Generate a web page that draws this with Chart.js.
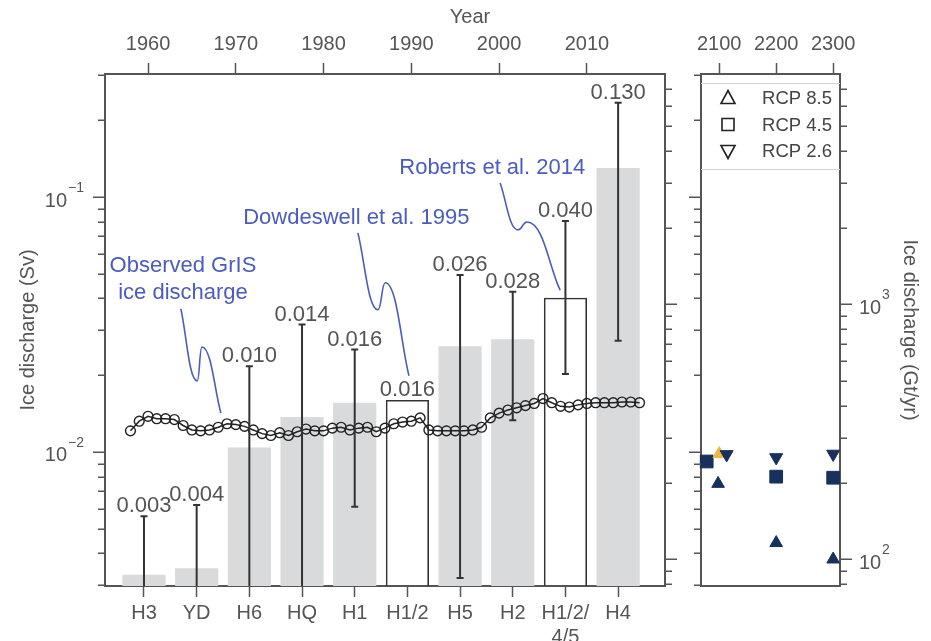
<!DOCTYPE html>
<html>
<head>
<meta charset="utf-8">
<script src="https://cdn.jsdelivr.net/npm/chart.js@4.4.1/dist/chart.umd.min.js"></script>
<style>
  html, body { margin: 0; padding: 0; background: #fff; }
  #wrap { position: relative; width: 931px; height: 641px; overflow: hidden; }
  .panel { position: absolute; top: 0; height: 641px; }
  #mainBox { left: 0; width: 685px; }
  #sideBox { left: 685px; width: 246px; }
</style>
</head>
<body>
<div id="wrap">
  <div class="panel" id="mainBox"><canvas id="mainChart" width="685" height="641"></canvas></div>
  <div class="panel" id="sideBox"><canvas id="sideChart" width="246" height="641"></canvas></div>
</div>
<script>
// ----------- Data -----------
const categories = ['H3', 'YD', 'H6', 'HQ', 'H1', 'H1/2', 'H5', 'H2', 'H1/2/\n4/5', 'H4'];
const dischargeSv = [0.0033, 0.0035, 0.0104, 0.0137, 0.0156, 0.0160, 0.0260, 0.0277, 0.0403, 0.130];
const valueLabels = ['0.003', '0.004', '0.010', '0.014', '0.016', '0.016', '0.026', '0.028', '0.040', '0.130'];
const errHigh = [0.0056, 0.0062, 0.0217, 0.0316, 0.0252, null, 0.0494, 0.0425, 0.0805, 0.234];
const errLow = [0.001, 0.001, 0.001, 0.001, 0.0061, null, 0.0032, 0.0133, 0.0202, 0.0273];
const outlined = [false, false, false, false, false, true, false, false, true, false];

// observed GrIS discharge, one point per year (Sv)
const obsYears = [1958, 1959, 1960, 1961, 1962, 1963, 1964, 1965, 1966, 1967,
  1968, 1969, 1970, 1971, 1972, 1973, 1974, 1975, 1976, 1977,
  1978, 1979, 1980, 1981, 1982, 1983, 1984, 1985, 1986, 1987,
  1988, 1989, 1990, 1991, 1992, 1993, 1994, 1995, 1996, 1997,
  1998, 1999, 2000, 2001, 2002, 2003, 2004, 2005, 2006, 2007,
  2008, 2009, 2010, 2011, 2012, 2013, 2014, 2015, 2016];
const obsSv = [0.0121, 0.0132, 0.0138, 0.0135, 0.0135, 0.0134, 0.0127, 0.0122, 0.0121, 0.0122,
  0.0125, 0.0129, 0.0128, 0.0126, 0.0122, 0.0118, 0.0116, 0.0119, 0.0116, 0.0120,
  0.0123, 0.0121, 0.0121, 0.0124, 0.0125, 0.0122, 0.0124, 0.0125, 0.0120, 0.0124,
  0.0129, 0.0131, 0.0132, 0.0136, 0.0122, 0.0121, 0.0121, 0.0121, 0.0121, 0.0122,
  0.0125, 0.0136, 0.0142, 0.0146, 0.0149, 0.0152, 0.0155, 0.0162, 0.0156, 0.0151,
  0.0150, 0.0153, 0.0155, 0.0156, 0.0156, 0.0156, 0.0157, 0.0157, 0.0156];

// projections (Gt/yr)
const rcp85Years = [2100, 2098, 2200, 2300];
const rcp85Gt = [259, 198, 116, 100];
const rcp85Colors = ['#f0b443', '#17315c', '#17315c', '#17315c'];
const rcp45Years = [2078, 2200, 2300];
const rcp45Gt = [242, 211, 209];
const rcp26Years = [2113, 2200, 2300];
const rcp26Gt = [258, 251, 259];

// axes
const svRange = [0.00298, 0.3037];
const gtRange = [78.6, 8010];
const yearRange = [1955.1, 2018.9];
const futureRange = [2068, 2312];
const catRange = [-0.74, 9.89];
const yearTicks = [1960, 1970, 1980, 1990, 2000, 2010];
const futureTicks = [2100, 2200, 2300];
const svTicks = [0.003, 0.004, 0.005, 0.006, 0.007, 0.008, 0.009,
  0.01, 0.02, 0.03, 0.04, 0.05, 0.06, 0.07, 0.08, 0.09, 0.1, 0.2, 0.3];
const svMajor = [0.01, 0.1];
const gtTicks = [80, 90, 100, 200, 300, 400, 500, 600, 700, 800, 900,
  1000, 2000, 3000, 4000, 5000, 6000, 7000];
const gtMajor = [100, 1000];

// callouts: text anchor [category, Sv] and curve points [category, Sv]
const callouts = [
  { lines: ['Observed GrIS', 'ice discharge'], at: [0.74, 0.0536],
    path: [[0.70, 0.0364], [1.01, 0.0190], [1.10, 0.0258], [1.46, 0.0142]] },
  { lines: ['Dowdeswell et al. 1995'], at: [4.03, 0.0828],
    path: [[4.06, 0.0723], [4.44, 0.0361], [4.58, 0.0461], [5.03, 0.0199]] },
  { lines: ['Roberts et al. 2014'], at: [6.61, 0.130],
    path: [[6.76, 0.1135], [7.10, 0.0743], [7.27, 0.0798], [7.90, 0.0431]] }
];

const FONT = '"Liberation Sans", Arial, Helvetica, sans-serif';
const AXIS = '#555';
const BLUE = '#4a5cc0';
Chart.defaults.font.family = FONT;
Chart.defaults.color = AXIS;

// ----------- Helpers -----------
const drawLogTicks = (ctx, scale, values, major, x0, dir) => {
  ctx.save();
  ctx.strokeStyle = AXIS;
  ctx.lineWidth = 1.5;
  ctx.beginPath();
  values.forEach(v => {
    if (v < scale.min || v > scale.max) return;
    const py = Math.round(scale.getPixelForValue(v)) + 0.25;
    const len = major.includes(v) ? 12 : 7;
    ctx.moveTo(x0, py);
    ctx.lineTo(x0 + dir * len, py);
  });
  ctx.stroke();
  ctx.restore();
};

const drawPower = (ctx, exp, x10, xExp, py, align) => {
  ctx.save();
  ctx.fillStyle = AXIS;
  ctx.textBaseline = 'middle';
  ctx.font = '20px ' + FONT;
  ctx.textAlign = align;
  ctx.fillText('10', x10, py + 4);
  ctx.font = '14px ' + FONT;
  ctx.textAlign = 'left';
  ctx.fillText(exp, xExp, py - 9);
  ctx.restore();
};

// squiggle with horizontal tangents at the turns
const squiggle = (ctx, pts) => {
  ctx.moveTo(pts[0][0], pts[0][1]);
  for (let i = 0; i < pts.length - 1; i++) {
    const a = pts[i], b = pts[i + 1];
    const dx = (b[0] - a[0]) / 2;
    const c1 = i === 0 ? [a[0] + (b[0] - a[0]) / 3, a[1] + (b[1] - a[1]) / 3] : [a[0] + dx, a[1]];
    const c2 = i === pts.length - 2 ? [b[0] - (b[0] - a[0]) / 3, b[1] - (b[1] - a[1]) / 3] : [b[0] - dx, b[1]];
    ctx.bezierCurveTo(c1[0], c1[1], c2[0], c2[1], b[0], b[1]);
  }
};

// ----------- Main panel decorations -----------
const mainDecor = {
  id: 'mainDecor',
  afterDatasetsDraw(chart) {
    const { ctx, chartArea: area } = chart;
    const x = chart.scales.x, y = chart.scales.y;

    // error bars
    ctx.save();
    ctx.beginPath();
    ctx.rect(area.left, area.top, area.right - area.left, area.bottom - area.top);
    ctx.clip();
    ctx.strokeStyle = '#333';
    ctx.lineWidth = 2;
    categories.forEach((c, i) => {
      if (errHigh[i] == null) return;
      const px = x.getPixelForValue(i);
      const hi = y.getPixelForValue(errHigh[i]);
      const lo = y.getPixelForValue(errLow[i]);
      ctx.beginPath();
      ctx.moveTo(px, hi); ctx.lineTo(px, lo);
      ctx.moveTo(px - 3.5, hi); ctx.lineTo(px + 3.5, hi);
      ctx.moveTo(px - 3.5, lo); ctx.lineTo(px + 3.5, lo);
      ctx.stroke();
    });
    ctx.restore();

    // value labels
    ctx.save();
    ctx.fillStyle = AXIS;
    ctx.font = '22px ' + FONT;
    ctx.textAlign = 'center';
    ctx.textBaseline = 'alphabetic';
    categories.forEach((c, i) => {
      const top = errHigh[i] != null ? errHigh[i] : dischargeSv[i];
      ctx.fillText(valueLabels[i], x.getPixelForValue(i), y.getPixelForValue(top) - 4);
    });
    ctx.restore();

    // callouts
    ctx.save();
    ctx.strokeStyle = BLUE;
    ctx.fillStyle = BLUE;
    ctx.lineWidth = 1.6;
    ctx.font = '22px ' + FONT;
    ctx.textAlign = 'center';
    ctx.textBaseline = 'middle';
    callouts.forEach(co => {
      const tx = x.getPixelForValue(co.at[0]);
      const ty = y.getPixelForValue(co.at[1]);
      co.lines.forEach((t, k) => ctx.fillText(t, tx, ty + k * 27));
      const pts = co.path.map(p => [x.getPixelForValue(p[0]), y.getPixelForValue(p[1])]);
      ctx.beginPath();
      squiggle(ctx, pts);
      ctx.stroke();
    });
    ctx.restore();
  },
  afterDraw(chart) {
    const { ctx, chartArea: area } = chart;
    drawLogTicks(ctx, chart.scales.y, svTicks, svMajor, area.left, -1);
    drawLogTicks(ctx, chart.scales.y2, gtTicks, gtMajor, area.right, 1);
    drawPower(ctx, '\u22121', area.left - 38, area.left - 37, chart.scales.y.getPixelForValue(0.1), 'right');
    drawPower(ctx, '\u22122', area.left - 38, area.left - 37, chart.scales.y.getPixelForValue(0.01), 'right');
    ctx.save();
    ctx.fillStyle = AXIS;
    ctx.font = '20px ' + FONT;
    ctx.textAlign = 'center';
    ctx.textBaseline = 'middle';
    ctx.fillText('Year', 470, 17);
    ctx.restore();
  }
};

// ----------- Side panel decorations -----------
const sideDecor = {
  id: 'sideDecor',
  beforeDatasetsDraw(chart) {
    const { ctx, chartArea: area } = chart;
    // legend box
    const top = area.top + 9;
    ctx.save();
    ctx.strokeStyle = '#d4d4d4';
    ctx.lineWidth = 1;
    ctx.beginPath();
    ctx.moveTo(area.left, top + 0.5); ctx.lineTo(area.right, top + 0.5);
    ctx.moveTo(area.left, top + 86.5); ctx.lineTo(area.right, top + 86.5);
    ctx.stroke();
    const items = [['tri', 'RCP 8.5'], ['sq', 'RCP 4.5'], ['down', 'RCP 2.6']];
    const mx = area.left + 27;
    ctx.strokeStyle = '#222';
    ctx.lineWidth = 1.6;
    ctx.fillStyle = '#444';
    ctx.font = '18.5px ' + FONT;
    ctx.textAlign = 'right';
    ctx.textBaseline = 'middle';
    items.forEach((it, k) => {
      const cy = top + 15 + k * 26.5;
      ctx.beginPath();
      if (it[0] === 'sq') {
        ctx.rect(mx - 6, cy - 6, 12, 12);
      } else {
        const s = it[0] === 'tri' ? 1 : -1;
        ctx.moveTo(mx, cy - s * 7.5);
        ctx.lineTo(mx + 7, cy + s * 5.5);
        ctx.lineTo(mx - 7, cy + s * 5.5);
        ctx.closePath();
      }
      ctx.stroke();
      ctx.fillText(it[1], area.right - 8, cy + 1);
    });
    ctx.restore();
  },
  afterDraw(chart) {
    const { ctx, chartArea: area } = chart;
    drawLogTicks(ctx, chart.scales.ySv, svTicks, svMajor, area.left, -1);
    drawLogTicks(ctx, chart.scales.y, gtTicks, gtMajor, area.right, 1);
    drawPower(ctx, '3', area.right + 19, area.right + 42, chart.scales.y.getPixelForValue(1000), 'left');
    drawPower(ctx, '2', area.right + 19, area.right + 42, chart.scales.y.getPixelForValue(100), 'left');
  }
};

// ----------- Main chart -----------
new Chart(document.getElementById('mainChart'), {
  type: 'bar',
  data: {
    datasets: [
      {
        type: 'line',
        label: 'Observed GrIS ice discharge',
        xAxisID: 'xTop',
        yAxisID: 'y',
        data: obsYears.map((yr, i) => ({ x: yr, y: obsSv[i] })),
        borderColor: '#222',
        borderWidth: 1.5,
        pointRadius: 4.9,
        pointBorderWidth: 1.4,
        pointBorderColor: '#222',
        pointBackgroundColor: 'rgba(255,255,255,0)',
        tension: 0,
        order: 0
      },
      {
        type: 'bar',
        label: 'Ice discharge',
        xAxisID: 'x',
        yAxisID: 'y',
        data: categories.map((c, i) => ({ x: i, y: dischargeSv[i] })),
        backgroundColor: outlined.map(o => o ? 'rgba(255,255,255,0)' : '#d9dadc'),
        borderColor: '#333',
        borderWidth: outlined.map(o => o ? 1.6 : 0),
        borderSkipped: 'start',
        grouped: false,
        categoryPercentage: 1,
        barPercentage: 0.82,
        order: 1
      }
    ]
  },
  options: {
    responsive: false,
    animation: false,
    layout: { padding: 0 },
    plugins: { legend: { display: false }, tooltip: { enabled: false } },
    scales: {
      x: {
        type: 'linear', position: 'bottom', min: catRange[0], max: catRange[1], offset: false,
        afterBuildTicks: s => { s.ticks = categories.map((c, i) => ({ value: i })); },
        ticks: {
          autoSkip: false, maxRotation: 0, padding: 4, color: AXIS, font: { size: 20 },
          callback: v => (categories[v] || '').split('\n')
        },
        grid: { display: true, offset: false, drawOnChartArea: false, tickLength: 11, tickWidth: 1.5, tickColor: AXIS },
        border: { display: true, color: AXIS, width: 2 },
        afterFit: s => { s.height = 55; }
      },
      xTop: {
        type: 'linear', position: 'top', min: yearRange[0], max: yearRange[1], offset: false,
        afterBuildTicks: s => { s.ticks = yearTicks.map(v => ({ value: v })); },
        ticks: { autoSkip: false, maxRotation: 0, padding: 7, color: AXIS, font: { size: 20 }, callback: v => String(v) },
        grid: { display: true, offset: false, drawOnChartArea: false, tickLength: 11, tickWidth: 1.5, tickColor: AXIS },
        border: { display: true, color: AXIS, width: 2 },
        afterFit: s => { s.height = 74; }
      },
      y: {
        type: 'logarithmic', position: 'left', min: svRange[0], max: svRange[1],
        ticks: { display: false },
        grid: { display: false },
        border: { display: true, color: AXIS, width: 2 },
        title: { display: true, text: 'Ice discharge (Sv)', color: AXIS, font: { size: 20 }, padding: { top: 16, bottom: 0 } },
        afterFit: s => { s.width = 105; }
      },
      y2: {
        type: 'logarithmic', position: 'right', min: gtRange[0], max: gtRange[1],
        ticks: { display: false },
        grid: { display: false },
        border: { display: true, color: AXIS, width: 2 },
        afterFit: s => { s.width = 20; }
      }
    }
  },
  plugins: [mainDecor]
});

// ----------- Side chart (projections) -----------
const marker = (label, years, values, style, rotation, colors, radius) => ({
  label,
  xAxisID: 'x',
  yAxisID: 'y',
  data: years.map((yr, i) => ({ x: yr, y: values[i] })),
  pointStyle: style,
  rotation,
  radius,
  pointRadius: radius,
  pointBackgroundColor: colors,
  pointBorderColor: colors,
  pointBorderWidth: 1,
  showLine: false,
  clip: false
});

new Chart(document.getElementById('sideChart'), {
  type: 'scatter',
  data: {
    datasets: [
      marker('RCP 2.6', rcp26Years, rcp26Gt, 'triangle', 180, '#17315c', 7.5),
      marker('RCP 8.5', rcp85Years, rcp85Gt, 'triangle', 0, rcp85Colors, 7.3),
      marker('RCP 4.5', rcp45Years, rcp45Gt, 'rect', 0, '#17315c', 9)
    ]
  },
  options: {
    responsive: false,
    animation: false,
    layout: { padding: 0 },
    plugins: { legend: { display: false }, tooltip: { enabled: false } },
    scales: {
      x: {
        type: 'linear', position: 'top', min: futureRange[0], max: futureRange[1], offset: false,
        afterBuildTicks: s => { s.ticks = futureTicks.map(v => ({ value: v })); },
        ticks: { autoSkip: false, maxRotation: 0, padding: 7, color: AXIS, font: { size: 20 }, callback: v => String(v) },
        grid: { display: true, drawOnChartArea: false, tickLength: 11, tickWidth: 1.5, tickColor: AXIS },
        border: { display: true, color: AXIS, width: 2 },
        afterFit: s => { s.height = 74; }
      },
      xb: {
        type: 'linear', axis: 'x', position: 'bottom', min: futureRange[0], max: futureRange[1],
        ticks: { display: false },
        grid: { display: false },
        border: { display: true, color: AXIS, width: 2 },
        afterFit: s => { s.height = 55; }
      },
      ySv: {
        type: 'logarithmic', axis: 'y', position: 'left', min: svRange[0], max: svRange[1],
        ticks: { display: false },
        grid: { display: false },
        border: { display: true, color: AXIS, width: 2 },
        afterFit: s => { s.width = 16; }
      },
      y: {
        type: 'logarithmic', position: 'right', min: gtRange[0], max: gtRange[1],
        ticks: { display: false },
        grid: { display: false },
        border: { display: true, color: AXIS, width: 2 },
        title: { display: true, text: 'Ice discharge (Gt/yr)', color: AXIS, font: { size: 20 }, padding: { top: 9, bottom: 0 } },
        afterFit: s => { s.width = 91; }
      }
    }
  },
  plugins: [sideDecor]
});
</script>
</body>
</html>
